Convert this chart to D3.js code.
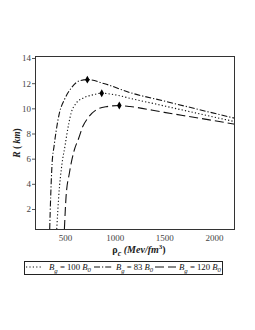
<!DOCTYPE html>
<html><head><meta charset="utf-8">
<script src="https://cdn.jsdelivr.net/npm/d3@7"></script>
<style>body{margin:0;background:#fff}svg{display:block}text{font-family:"Liberation Serif","Times New Roman",serif}</style>
</head><body><div id="chart"></div>
<script>
const xTicks = [500, 1000, 1500, 2000];
const yTicks = [2, 4, 6, 8, 10, 12, 14];

const rho83 = [346, 356, 370, 390, 410, 443, 493, 561, 644, 725, 900, 1155, 1500, 1850, 2212];
const R83   = [0.4, 3.0, 5.6, 7.0, 8.15, 9.6, 10.67, 11.6, 12.18, 12.28, 11.95, 11.25, 10.58, 9.9, 9.21];

const rho100 = [417, 437, 470, 500, 518, 561, 611, 679, 779, 870, 1000, 1155, 1500, 1850, 2212];
const R100   = [0.4, 3.0, 5.6, 7.0, 7.9, 9.6, 10.4, 10.8, 11.07, 11.2, 11.08, 10.8, 10.19, 9.57, 8.94];

const rho120 = [494, 511, 544, 594, 638, 679, 729, 813, 913, 1047, 1155, 1500, 1850, 2212];
const R120   = [0.4, 3.0, 4.84, 6.69, 7.62, 8.55, 9.21, 9.87, 10.13, 10.22, 10.14, 9.68, 9.22, 8.74];

const seriesNames = ["100", "83", "120"];
const peakRho = [870, 725, 1047];
const peakR = [11.2, 12.28, 10.22];

const W = 255, H = 330;
const m = {l: 35, r: 20, t: 56, b: 100};
const svg = d3.select("#chart").append("svg").attr("width", W).attr("height", H);

const x = d3.scaleLinear().domain([198, 2212]).range([m.l, W - m.r]);
const y = d3.scaleLinear().domain([0.33, 14.16]).range([H - m.b, m.t]);

svg.append("clipPath").attr("id", "c").append("rect")
  .attr("x", m.l).attr("y", m.t).attr("width", W - m.r - m.l).attr("height", H - m.b - m.t);

// axes
const xa = svg.append("g").attr("transform", `translate(0,${H - m.b})`)
  .call(d3.axisBottom(x).tickValues(xTicks).tickFormat(d3.format("d")).tickSize(0).tickPadding(5));
const ya = svg.append("g").attr("transform", `translate(${m.l},0)`)
  .call(d3.axisLeft(y).tickValues(yTicks).tickFormat(d3.format("d")).tickSize(3).tickPadding(1));
[xa, ya].forEach(a => {
  a.select(".domain").remove();
  a.selectAll("text").attr("font-size", 9).attr("fill", "#444")
    .style("font-family", '"Liberation Serif",serif');
  a.selectAll("line").attr("stroke", "#555");
});

const lineGen = d3.line().x(d => x(d[0])).y(d => y(d[1])).curve(d3.curveMonotoneX);
const series = [
  {rho: rho100, R: R100, dash: "1.2,2.2"},
  {rho: rho83, R: R83, dash: "6,2,1.2,2"},
  {rho: rho120, R: R120, dash: "9,4"}
];
const g = svg.append("g").attr("clip-path", "url(#c)");
series.forEach(s => {
  g.append("path").datum(s.rho.map((r, i) => [r, s.R[i]]))
    .attr("d", lineGen).attr("fill", "none").attr("stroke", "#111")
    .attr("stroke-width", 1.1).attr("stroke-dasharray", s.dash);
});
peakRho.forEach((p, i) => {
  svg.append("path").attr("d", d3.symbol(d3.symbolDiamond, 18)())
    .attr("transform", `translate(${x(p)},${y(peakR[i])})`).attr("fill", "#000");
});

// frame
svg.append("rect").attr("x", m.l + 0.5).attr("y", m.t + 0.5)
  .attr("width", W - m.r - m.l - 1).attr("height", H - m.b - m.t - 1)
  .attr("fill", "none").attr("stroke", "#333").attr("stroke-width", 1);

// y label
const yl = svg.append("text").attr("transform", `translate(20,${(m.t + H - m.b) / 2}) rotate(-90)`)
  .attr("text-anchor", "middle").attr("font-size", 9.5).attr("font-weight", "bold").attr("fill", "#222");
yl.append("tspan").attr("font-style", "italic").text("R");
yl.append("tspan").text(" ( ");
yl.append("tspan").attr("font-style", "italic").text("km");
yl.append("tspan").text(")");

// x label
const xl = svg.append("text").attr("x", 139).attr("y", 253).attr("text-anchor", "middle")
  .attr("font-size", 10).attr("fill", "#222");
xl.append("tspan").attr("font-weight", "bold").text("ρ");
xl.append("tspan").attr("font-style", "italic").attr("font-weight", "bold").attr("font-size", 8).attr("dy", 3).text("c");
xl.append("tspan").attr("dy", -3).attr("font-style", "italic").attr("font-weight", "bold").text(" (Mev/fm");
xl.append("tspan").attr("font-size", 7).attr("dy", -4).attr("font-weight", "bold").text("3");
xl.append("tspan").attr("dy", 4).attr("font-weight", "bold").text(")");

// legend
svg.append("rect").attr("x", 24.5).attr("y", 261.5).attr("width", 198).attr("height", 13)
  .attr("fill", "none").attr("stroke", "#222").attr("stroke-width", 1);
const legX = [[26, 41, 49, 42], [94, 112, 116, 37], [155, 176, 179, 42]];
[0, 1, 2].forEach((si, k) => {
  const [x0, x1, tx, tl] = legX[k];
  svg.append("line").attr("x1", x0).attr("x2", x1).attr("y1", 267).attr("y2", 267)
    .attr("stroke", "#111").attr("stroke-width", 1.1).attr("stroke-dasharray", series[si].dash);
  const t = svg.append("text").attr("x", tx).attr("y", 270).attr("font-size", 9).attr("fill", "#111")
    .attr("textLength", tl).attr("lengthAdjust", "spacingAndGlyphs");
  t.append("tspan").attr("font-style", "italic").text("B");
  t.append("tspan").attr("font-style", "italic").attr("font-size", 7).attr("dy", 3).text("g");
  t.append("tspan").attr("dy", -3).text(" = " + seriesNames[si] + " ");
  t.append("tspan").attr("font-style", "italic").text("B");
  t.append("tspan").attr("font-style", "italic").attr("font-size", 7).attr("dy", 2).text("0");
});
</script></body></html>
